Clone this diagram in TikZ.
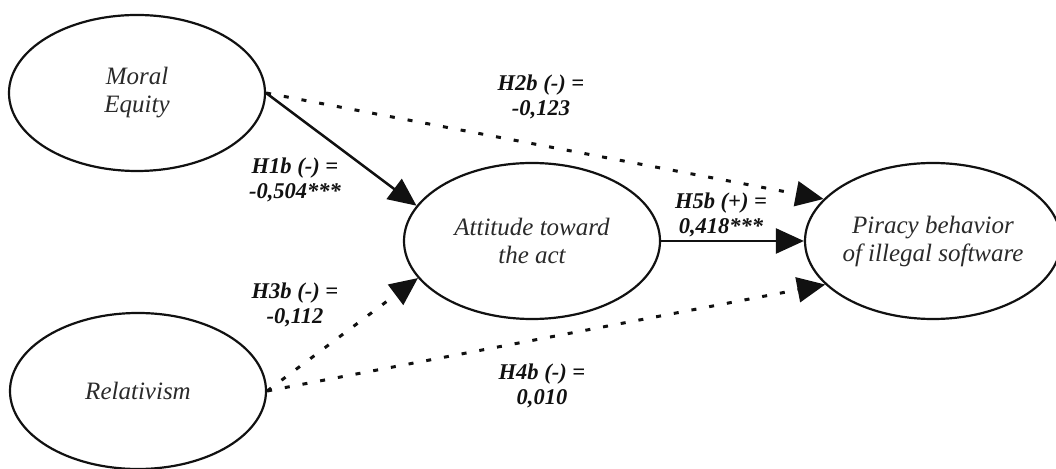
\documentclass[tikz,border=0pt]{standalone}
\usepackage{fontspec}
\setmainfont{Liberation Serif}
\usetikzlibrary{shapes.geometric, arrows.meta}
\definecolor{smInk}{HTML}{111111}
\definecolor{smText}{HTML}{2A2A2A}
\newcommand\conFont{\fontsize{25}{28}\selectfont\itshape}
\newcommand\lblFont{\fontsize{22.5}{25}\selectfont\bfseries\itshape}
\tikzset{
  construct/.style={ellipse, draw=smInk, line width=2.2pt, fill=white,
    minimum width=256pt, minimum height=156pt, inner sep=0pt,
    align=center, font=\conFont, text=smText},
  pathlbl/.style={align=center, font=\lblFont, text=smInk, inner sep=0pt},
  sigarrow/.style={-{Triangle[length=28pt, width=25pt]}, line width=2.5pt, smInk},
  nsarrow/.style={-{Triangle[length=28pt, width=25pt]}, line width=3pt,
    dash pattern=on 5pt off 13pt, smInk}
}

\begin{document}
\begin{tikzpicture}[x=1pt, y=1pt]
        \useasboundingbox (0,0) rectangle (1056,468);
        \node[construct] (moral) at (137,375) {Moral\\Equity};
        \node[construct] (relat) at (138,77) {Relativism};
        \node[construct] (att) at (532,227) {Attitude toward\\the act};
        \node[construct, minimum width=250pt] (pir) at (933,227) {Piracy behavior\\of illegal software};
        % hypothesised paths
        \draw[sigarrow] (moral.east) -- (att.163);
        \draw[nsarrow] (moral.east) -- (pir.159);
        \draw[nsarrow] (relat.east) -- (att.198);
        \draw[nsarrow] (relat.east) -- (pir.202);
        \draw[sigarrow] (att.east) -- (pir.west);
        % path coefficients
        \node[pathlbl] (h1b) at (295,288) {H1b (-) =\\-0,504***};
        \node[pathlbl] (h2b) at (541,371) {H2b (-) =\\-0,123};
        \node[pathlbl] (h3b) at (295,163) {H3b (-) =\\-0,112};
        \node[pathlbl] (h4b) at (542,82) {H4b (-) =\\0,010};
        \node[pathlbl] (h5b) at (721,253) {H5b (+) =\\0,418***};
      \end{tikzpicture}
\end{document}
